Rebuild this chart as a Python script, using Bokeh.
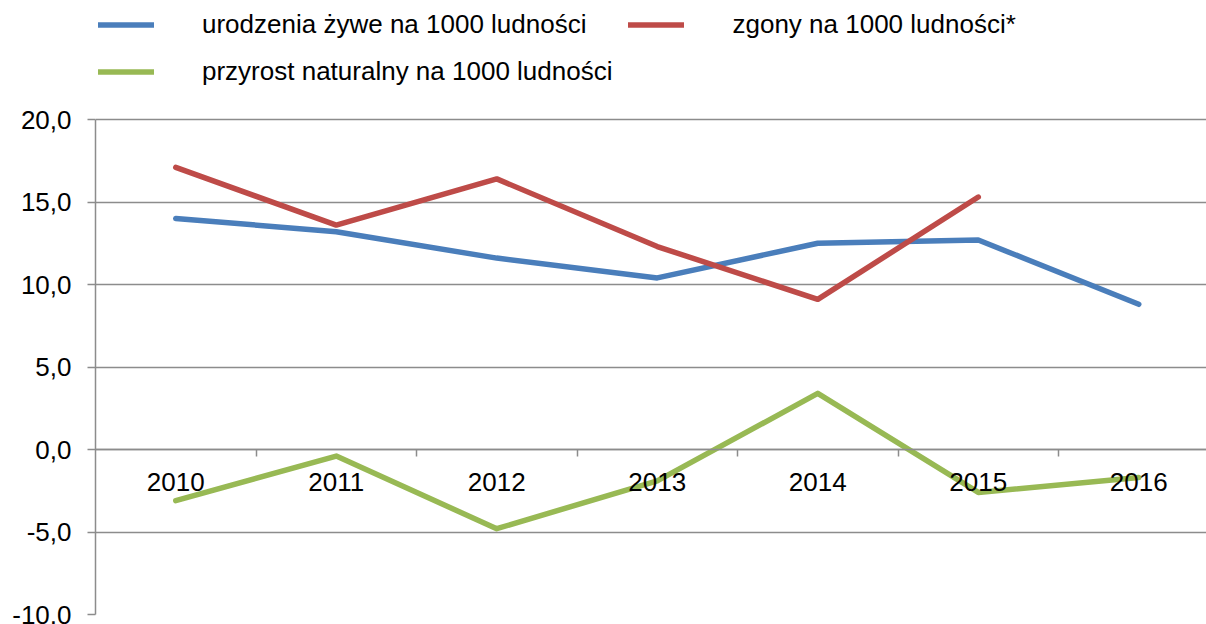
import math
from bokeh.plotting import figure
from bokeh.models import (Legend, LegendItem, LinearAxis, FixedTicker,
                          SingleIntervalTicker, CustomJSTickFormatter, Range1d)
from bokeh.embed import file_html
from bokeh.resources import INLINE

years = [2010, 2011, 2012, 2013, 2014, 2015, 2016]
births = [14.0, 13.2, 11.6, 10.4, 12.5, 12.7, 8.8]
deaths = [17.1, 13.6, 16.4, 12.3, 9.1, 15.3, float("nan")]
natural = [-3.1, -0.4, -4.8, -1.9, 3.4, -2.6, -1.7]
labels = ["urodzenia żywe na 1000 ludności", "zgony na 1000 ludności*",
          "przyrost naturalny na 1000 ludności"]
colors = ["#4A7EBB", "#BE4B48", "#98B954"]
y_min, y_max, y_step = -10, 20, 5

FONT = "Liberation Sans"
GRID = "#8c8c8c"

# frame extends to the top of the canvas so the legend sits inside it;
# the value axis itself is bounded to [-10, 20]
px_per_unit = 495 / (y_max - y_min)
top_extra = 119 / px_per_unit

p = figure(width=1206, height=624, output_backend="svg", toolbar_location=None,
           x_range=Range1d(years[0] - 0.5, years[0] - 0.5 + 6.922),
           y_range=Range1d(y_min, y_max + top_extra),
           min_border_left=95, min_border_right=0, min_border_top=0,
           min_border_bottom=10)
p.outline_line_color = None
p.background_fill_color = "white"
p.border_fill_color = "white"

r1 = p.line(years, births, line_color=colors[0], line_width=5.5, line_cap="round", line_join="round")
r2 = p.line(years, deaths, line_color=colors[1], line_width=5.5, line_cap="round", line_join="round")
r3 = p.line(years, natural, line_color=colors[2], line_width=5.5, line_cap="round", line_join="round")

# grid
p.xgrid.visible = False
p.ygrid.grid_line_color = GRID
p.ygrid.grid_line_width = 1.5
p.ygrid.ticker = SingleIntervalTicker(interval=y_step, num_minor_ticks=0)
p.ygrid.bounds = (y_min, y_max)

# y axis
ya = p.yaxis[0]
ya.bounds = (y_min, y_max)
ya.ticker = SingleIntervalTicker(interval=y_step, num_minor_ticks=0)
ya.formatter = CustomJSTickFormatter(code="return tick.toFixed(1).replace('.', ',');")
ya.axis_line_color = GRID
ya.axis_line_width = 1.5
ya.major_tick_line_color = GRID
ya.major_tick_line_width = 1.5
ya.major_tick_out = 8
ya.major_tick_in = 0
ya.minor_tick_line_color = None
ya.major_label_standoff = 16
ya.major_label_text_font = FONT
ya.major_label_text_font_size = "26px"
ya.major_label_text_color = "black"

# x axis (labels at category centres) fixed at y=0
xa = p.xaxis[0]
xa.fixed_location = 0
xa.ticker = FixedTicker(ticks=years)
xa.formatter = CustomJSTickFormatter(code="return String(tick);")
xa.axis_line_color = GRID
xa.axis_line_width = 1.5
xa.major_tick_line_color = None
xa.major_tick_out = 0
xa.major_tick_in = 0
xa.minor_tick_line_color = None
xa.major_label_standoff = 23
xa.major_label_text_font = FONT
xa.major_label_text_font_size = "26px"
xa.major_label_text_color = "black"

# tick marks at category boundaries
xb = LinearAxis(fixed_location=0,
                ticker=FixedTicker(ticks=[y + 0.5 for y in years]),
                formatter=CustomJSTickFormatter(code="return '';"))
xb.axis_line_color = None
xb.major_tick_line_color = GRID
xb.major_tick_line_width = 1.5
xb.major_tick_out = 7
xb.major_tick_in = 0
xb.minor_tick_line_color = None
p.add_layout(xb, "below")

legend = Legend(items=[LegendItem(label=labels[0], renderers=[r1]),
                       LegendItem(label=labels[1], renderers=[r2]),
                       LegendItem(label=labels[2], renderers=[r3])],
                location=(3, 527), orientation="horizontal", ncols=2)
legend.border_line_color = None
legend.background_fill_alpha = 0
legend.padding = 0
legend.margin = 0
legend.spacing = 16
legend.glyph_width = 56
legend.glyph_height = 29
legend.label_height = 29
legend.label_standoff = 48
legend.label_text_font = FONT
legend.label_text_font_size = "26px"
legend.label_text_color = "black"
p.add_layout(legend, "center")

open("out.html", "w").write(file_html(p, INLINE))
